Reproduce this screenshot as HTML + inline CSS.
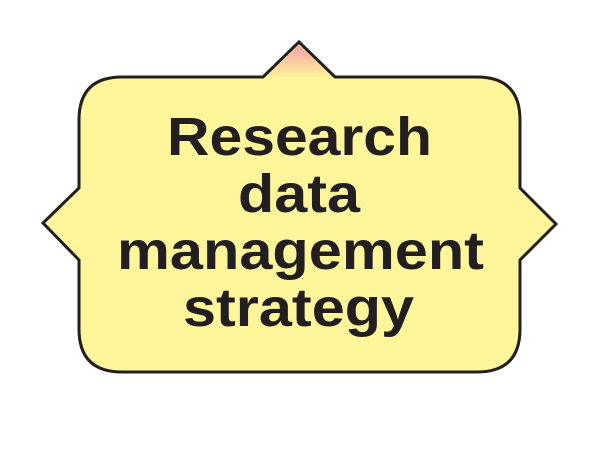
<!DOCTYPE html>
<html><head><meta charset="utf-8"><style>
html,body{margin:0;padding:0;background:#fff;width:600px;height:450px;overflow:hidden}
</style></head><body>
<svg width="600" height="450" viewBox="0 0 600 450">
<defs><linearGradient id="tg" x1="0" y1="0" x2="0" y2="1">
<stop offset="0" stop-color="#f5a0a8"/><stop offset="1" stop-color="#fff59a"/></linearGradient></defs>
<g>
<path d="M122,77 L263,77 L299,42 L335,77 L477,77 Q520,77 520,120 L520,188 L556,224 L520,260 L520,329 Q520,372 477,372 L122,372 Q79,372 79,329 L79,260 L43,223 L79,188 L79,120 Q79,77 122,77 Z" fill="#fff59a" stroke="#231f20" stroke-width="3" stroke-linejoin="miter"/>
<path d="M265,78 L299,45 L333,78 Z" fill="url(#tg)"/>
</g>
<g font-family="'Liberation Sans', 'DejaVu Sans', sans-serif" font-weight="bold" font-size="54" fill="#231f20" text-anchor="middle">
<text x="299.5" y="155" textLength="265" lengthAdjust="spacingAndGlyphs">Research</text>
<text x="299" y="212" textLength="122" lengthAdjust="spacingAndGlyphs">data</text>
<text x="300.5" y="269" textLength="367" lengthAdjust="spacingAndGlyphs">management</text>
<text x="298.5" y="326" textLength="231" lengthAdjust="spacingAndGlyphs">strategy</text>
</g>
</svg>
</body></html>
